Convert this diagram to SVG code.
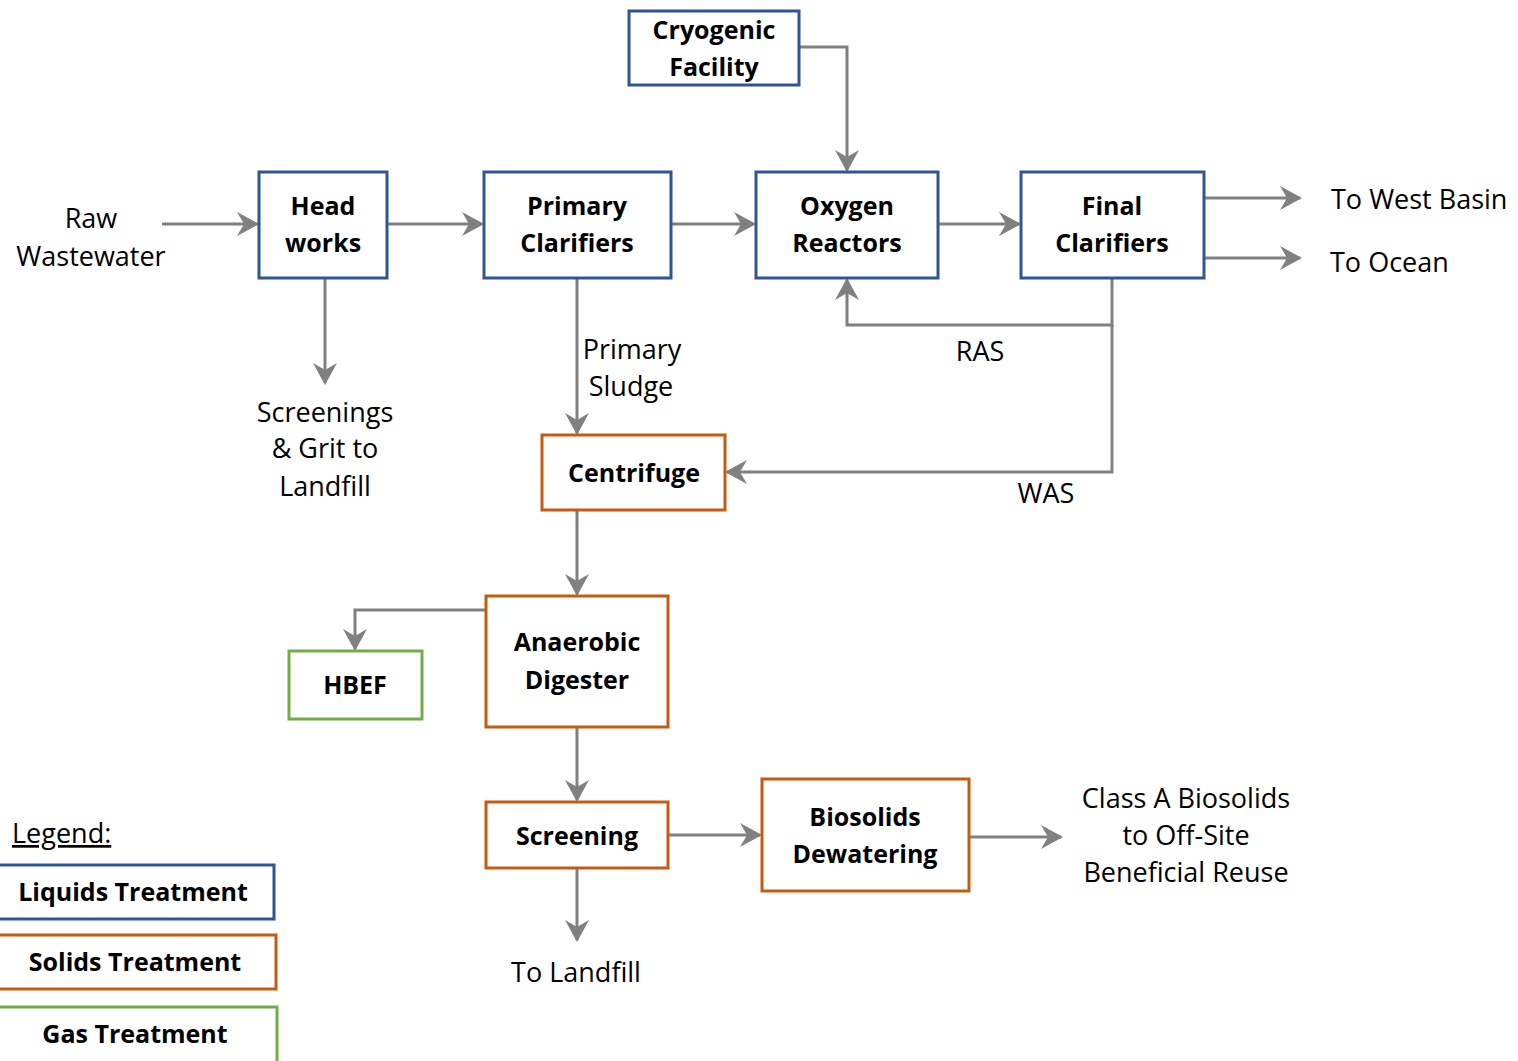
<svg xmlns="http://www.w3.org/2000/svg" width="1518" height="1061" viewBox="0 0 1518 1061">
<defs>
<style>
.liq{fill:#fff;stroke:#2F5597;stroke-width:3}
.sol{fill:#fff;stroke:#C55A11;stroke-width:3}
.gas{fill:#fff;stroke:#70AD47;stroke-width:3}
.b{font-family:"Open Sans","Noto Sans",sans-serif;font-weight:bold;font-size:25px;fill:#000;text-anchor:middle}
.t{font-family:"Open Sans","Noto Sans",sans-serif;font-size:27px;fill:#000;text-anchor:middle}
.tl{font-family:"Open Sans","Noto Sans",sans-serif;font-size:27px;fill:#000}
.c{fill:none;stroke:#808080;stroke-width:3}
</style>
<marker id="ah" markerUnits="userSpaceOnUse" markerWidth="22" markerHeight="24" viewBox="0 0 22 24" refX="20" refY="12" orient="auto">
<path d="M0,0 L22,12 L0,24 L7,12 z" fill="#808080"/>
</marker>
</defs>
<rect width="1518" height="1061" fill="#fff"/>
<g id="connectors">
<path class="c" d="M162,224 H257" marker-end="url(#ah)"/>
<path class="c" d="M387,224 H482" marker-end="url(#ah)"/>
<path class="c" d="M671,224 H754" marker-end="url(#ah)"/>
<path class="c" d="M938,224 H1019" marker-end="url(#ah)"/>
<path class="c" d="M1204,198 H1300" marker-end="url(#ah)"/>
<path class="c" d="M1204,258 H1300" marker-end="url(#ah)"/>
<path class="c" d="M799,47 H847 V170" marker-end="url(#ah)"/>
<path class="c" d="M325,278 V383" marker-end="url(#ah)"/>
<path class="c" d="M577,278 V433" marker-end="url(#ah)"/>
<path class="c" d="M1112,278 V325 H847 V280" marker-end="url(#ah)"/>
<path class="c" d="M1112,325 V472 H727" marker-end="url(#ah)"/>
<path class="c" d="M577,510 V594" marker-end="url(#ah)"/>
<path class="c" d="M486,610 H355 V649" marker-end="url(#ah)"/>
<path class="c" d="M577,727 V800" marker-end="url(#ah)"/>
<path class="c" d="M668,835 H760" marker-end="url(#ah)"/>
<path class="c" d="M969,837 H1061" marker-end="url(#ah)"/>
<path class="c" d="M577,868 V940" marker-end="url(#ah)"/>
</g>
<g id="cryogenic"><rect class="liq" x="629" y="11" width="170" height="74"/><text class="b" x="714" y="39">Cryogenic</text><text class="b" x="714" y="76">Facility</text></g>
<g id="headworks"><rect class="liq" x="259" y="172" width="128" height="106"/><text class="b" x="323" y="215">Head</text><text class="b" x="323" y="252">works</text></g>
<g id="primary"><rect class="liq" x="484" y="172" width="187" height="106"/><text class="b" x="577" y="215">Primary</text><text class="b" x="577" y="252">Clarifiers</text></g>
<g id="oxygen"><rect class="liq" x="756" y="172" width="182" height="106"/><text class="b" x="847" y="215">Oxygen</text><text class="b" x="847" y="252">Reactors</text></g>
<g id="final"><rect class="liq" x="1021" y="172" width="183" height="106"/><text class="b" x="1112" y="215">Final</text><text class="b" x="1112" y="252">Clarifiers</text></g>
<g id="centrifuge"><rect class="sol" x="542" y="435" width="183" height="75"/><text class="b" x="634" y="482">Centrifuge</text></g>
<g id="digester"><rect class="sol" x="486" y="596" width="182" height="131"/><text class="b" x="577" y="651">Anaerobic</text><text class="b" x="577" y="689">Digester</text></g>
<g id="hbef"><rect class="gas" x="289" y="651" width="133" height="68"/><text class="b" x="355" y="694">HBEF</text></g>
<g id="screening"><rect class="sol" x="486" y="802" width="182" height="66"/><text class="b" x="577" y="845">Screening</text></g>
<g id="biosolids"><rect class="sol" x="762" y="779" width="207" height="112"/><text class="b" x="865" y="826">Biosolids</text><text class="b" x="865" y="863">Dewatering</text></g>
<g id="labels">
<text class="t" x="91" y="228">Raw</text><text class="t" x="91" y="266">Wastewater</text>
<text class="t" x="325" y="422">Screenings</text><text class="t" x="325" y="458">&amp; Grit to</text><text class="t" x="325" y="496">Landfill</text>
<text class="t" x="632" y="359">Primary</text><text class="t" x="631" y="396">Sludge</text>
<text class="t" x="980" y="361">RAS</text>
<text class="t" x="1046" y="503">WAS</text>
<text class="tl" x="1331" y="209">To West Basin</text>
<text class="tl" x="1330" y="272">To Ocean</text>
<text class="t" x="1186" y="808">Class A Biosolids</text><text class="t" x="1186" y="845">to Off-Site</text><text class="t" x="1186" y="882">Beneficial Reuse</text>
<text class="t" x="576" y="982">To Landfill</text>
</g>
<g id="legend">
<text class="tl" x="12" y="843" text-decoration="underline">Legend:</text>
<rect class="liq" x="-2" y="865" width="276" height="54"/><text class="b" x="133" y="901">Liquids Treatment</text>
<rect class="sol" x="-2" y="935" width="278" height="54"/><text class="b" x="135" y="971">Solids Treatment</text>
<rect class="gas" x="-2" y="1007" width="279" height="56"/><text class="b" x="135" y="1043">Gas Treatment</text>
</g>
</svg>
